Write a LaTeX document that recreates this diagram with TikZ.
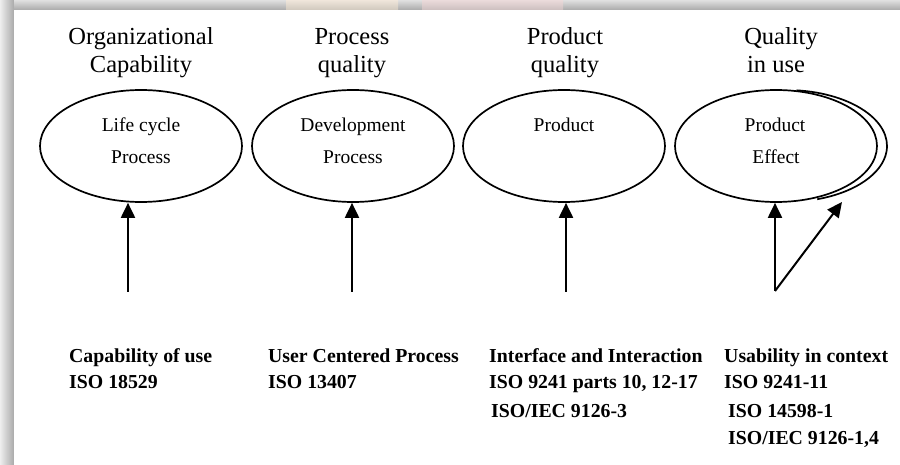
\documentclass[tikz,border=0pt]{standalone}
\usepackage{fontspec}
\setmainfont{Liberation Serif}
\usetikzlibrary{arrows.meta,shapes.geometric}

\definecolor{bandlight}{HTML}{EEEEEE}
\definecolor{banddark}{HTML}{A9A9A9}
\definecolor{bandbeige}{HTML}{E9DCCB}
\definecolor{bandpink}{HTML}{E3CCCC}

\tikzset{
  oval/.style={ellipse, draw, line width=1.7pt, minimum width=202pt, minimum height=112pt, inner sep=0pt},
  headtext/.style={font=\fontsize{24.5}{28}\selectfont, anchor=base},
  ovaltext/.style={font=\fontsize{19.5}{22}\selectfont, anchor=base},
  stdtext/.style={font=\fontsize{19.8}{22}\selectfont\bfseries, anchor=base west, inner sep=0pt},
  uparrow/.style={line width=2pt, -{Triangle[length=15pt, width=14pt]}},
}

\begin{document}
\begin{tikzpicture}[x=1pt, y=1pt]
  \useasboundingbox (0,0) rectangle (900,-465);

  % page frame with a soft shadow on the left and top
  \shade[left color=bandlight, right color=banddark] (0,0) rectangle (14,-465);
  \shade[top color=bandlight!80!banddark, bottom color=banddark] (14,0) rectangle (900,-10);
  \shade[top color=bandbeige!70!white, bottom color=bandbeige!60!banddark] (286,0) rectangle (398,-10);
  \shade[top color=bandpink!70!white, bottom color=bandpink!60!banddark] (422,0) rectangle (563,-10);
  \fill[white] (14,-10) rectangle (900,-465);

  % column headings
  \node[headtext] (h1a) at (141,-45) {Organizational};
  \node[headtext] (h1b) at (141,-73) {Capability};
  \node[headtext] (h2a) at (352,-45) {Process};
  \node[headtext] (h2b) at (352,-73) {quality};
  \node[headtext] (h3a) at (565,-45) {Product};
  \node[headtext] (h3b) at (565,-73) {quality};
  \node[headtext] (h4a) at (781,-45) {Quality};
  \node[headtext] (h4b) at (776,-73) {in use};

  % ovals
  \node[oval] (e1) at (141,-146) {};
  \node[oval] (e2) at (353,-146) {};
  \node[oval] (e3) at (564,-146) {};
  \node[oval] (e4) at (776,-146) {};
  % second outline on the right of the last oval
  \draw[line width=1.7pt] ([shift={(10,0)}]e4.center) ++(84:101pt and 56pt)
    arc[start angle=84, end angle=-72, x radius=101pt, y radius=56pt];

  % oval labels
  \node[ovaltext] (t1a) at (141,-132) {Life cycle};
  \node[ovaltext] (t1b) at (141,-164) {Process};
  \node[ovaltext] (t2a) at (353,-132) {Development};
  \node[ovaltext] (t2b) at (353,-164) {Process};
  \node[ovaltext] (t3a) at (564,-132) {Product};
  \node[ovaltext] (t4a) at (775,-132) {Product};
  \node[ovaltext] (t4b) at (776,-164) {Effect};

  % arrow feet
  \coordinate (a1) at (128,-292);
  \coordinate (a2) at (352,-292);
  \coordinate (a3) at (566,-292);
  \coordinate (a4) at (775,-291);
  \coordinate (a4tip) at (842,-202);

  \draw[uparrow] (a1) -- (e1.south -| a1);
  \draw[uparrow] (a2) -- (e2.south -| a2);
  \draw[uparrow] (a3) -- (e3.south -| a3);
  \draw[uparrow] (a4) -- (e4.south -| a4);
  \draw[uparrow] (a4) -- (a4tip);

  % standards under each column
  \node[stdtext] (s1a) at (69,-362) {Capability of use};
  \node[stdtext] (s1b) at (69,-388) {ISO 18529};

  \node[stdtext] (s2a) at (268,-362) {User Centered Process};
  \node[stdtext] (s2b) at (268,-388) {ISO 13407};

  \node[stdtext] (s3a) at (489,-362) {Interface and Interaction};
  \node[stdtext] (s3b) at (489,-388) {ISO 9241 parts 10, 12-17};
  \node[stdtext] (s3c) at (491,-417) {ISO/IEC 9126-3};

  \node[stdtext] (s4a) at (724,-362) {Usability in context};
  \node[stdtext] (s4b) at (724,-388) {ISO 9241-11};
  \node[stdtext] (s4c) at (728,-417) {ISO 14598-1};
  \node[stdtext] (s4d) at (728,-444) {ISO/IEC 9126-1,4};
\end{tikzpicture}
\end{document}
